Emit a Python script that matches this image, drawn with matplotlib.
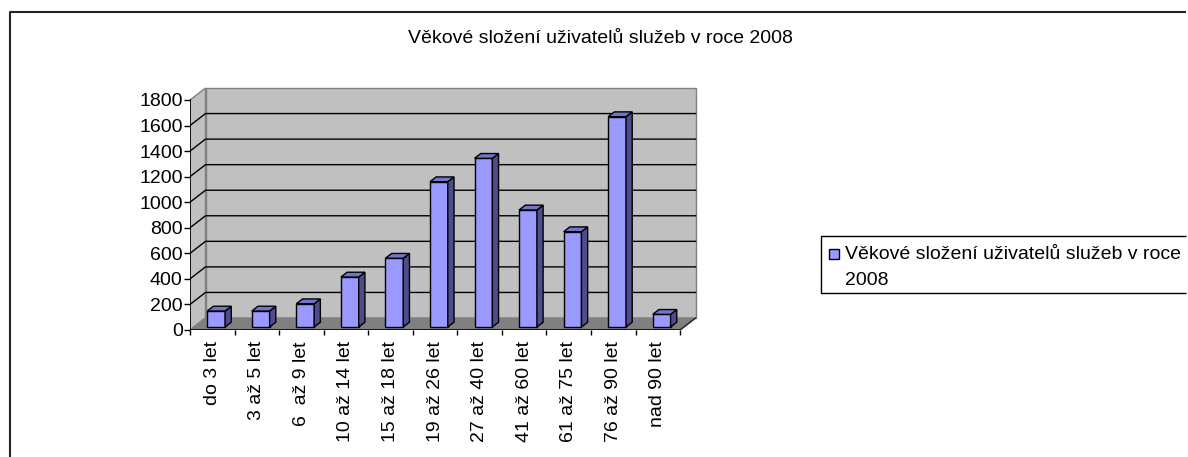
import matplotlib
matplotlib.use('Agg')
import matplotlib.pyplot as plt
from matplotlib.patches import Polygon, Rectangle
from matplotlib.lines import Line2D
import numpy as np

plt.rcParams['font.family'] = ['Liberation Sans', 'DejaVu Sans']

# Data
nazev = 'Věkové složení uživatelů služeb v roce 2008'
kategorie = ['do 3 let', '3 až 5 let', '6  až 9 let', '10 až 14 let', '15 až 18 let',
             '19 až 26 let', '27 až 40 let', '41 až 60 let', '61 až 75 let',
             '76 až 90 let', 'nad 90 let']
pocty = [125, 125, 182, 391, 538, 1137, 1320, 916, 746, 1646, 99]
y_ticks = [0, 200, 400, 600, 800, 1000, 1200, 1400, 1600, 1800]

# Rozmery obrazku (px) a "3D" posun
W, H = 1188, 457
PX_X = 44.55          # px na jednu kategorii
PX_Y = 230 / 1800     # px na jednotku hodnoty
DX = 15.5 / PX_X      # hloubka ve smeru x (v jednotkach kategorie)
DY = 12 / PX_Y        # hloubka ve smeru y (v jednotkach hodnoty)

FS = 14
C_PREDNI = '#9999ff'
C_HORNI = '#7474cc'
C_BOK = '#4d4d8a'

fig = plt.figure(figsize=(W / 100, H / 100), dpi=100, facecolor='white')
ax = fig.add_axes([190 / W, (H - 330) / H, 510 / W, 250 / H])
ax.set_xlim(0, 510 / PX_X)
ax.set_ylim(0, 250 / PX_Y)
for s in ax.spines.values():
    s.set_visible(False)
ax.patch.set_visible(False)

n = len(kategorie)
ymax = y_ticks[-1]

# Steny a podlaha
ax.add_patch(Polygon([(DX, DY), (n + DX, DY), (n + DX, ymax + DY), (DX, ymax + DY)],
                     closed=True, fc='#c0c0c0', ec='#808080', lw=1, zorder=1))
ax.add_patch(Polygon([(0, 0), (DX, DY), (DX, ymax + DY), (0, ymax)],
                     closed=True, fc='#c0c0c0', ec='#808080', lw=1, zorder=1))
ax.add_patch(Polygon([(0, 0), (n, 0), (n + DX, DY), (DX, DY)],
                     closed=True, fc='#808080', ec='#808080', lw=1, zorder=1))
ax.plot([n, n + DX], [0, DY], color='#222222', lw=1, zorder=2)

# Mrizka
for v in y_ticks[1:-1]:
    ax.plot([0, DX, n + DX], [v, v + DY, v + DY], color='black', lw=1, zorder=2)

# Osy
ax.plot([0, 0], [0, ymax], color='black', lw=1.2, zorder=3)
ax.plot([0, n], [0, 0], color='black', lw=1.2, zorder=3)

# Sloupce
f = 0.25
sirka = 0.4
hl = 0.4
x_stred = np.arange(n) + 0.5 + f * DX
zaklad = f * DY
ax.bar(x_stred, pocty, width=sirka, bottom=zaklad, color=C_PREDNI,
       edgecolor='black', lw=1, zorder=5)
d = hl * DX
dy = hl * DY
for xc, v in zip(x_stred, pocty):
    x0, x1 = xc - sirka / 2, xc + sirka / 2
    top = zaklad + v
    ax.add_patch(Polygon([(x1, zaklad), (x1, top), (x1 + d, top + dy), (x1 + d, zaklad + dy)],
                         closed=True, fc=C_BOK, ec='black', lw=1, zorder=5))
    ax.add_patch(Polygon([(x0, top), (x1, top), (x1 + d, top + dy), (x0 + d, top + dy)],
                         closed=True, fc=C_HORNI, ec='black', lw=1, zorder=5))

# Popisky os
ax.set_yticks(y_ticks)
ax.set_yticklabels([str(v) for v in y_ticks])
ax.tick_params(axis='y', direction='out', length=4.3, width=1, pad=1, labelsize=FS)
ax.set_xticks(range(n + 1))
ax.tick_params(axis='x', which='major', direction='out', length=3.6, width=1, labelbottom=False)
ax.set_xticks(np.arange(n) + 0.5, minor=True)
ax.set_xticklabels(kategorie, minor=True, rotation=90, va='top', ha='center')
ax.tick_params(axis='x', which='minor', length=0, pad=8, labelsize=FS)

# Titulek
fig.text(600 / W, 1 - 43 / H, nazev, ha='center', va='baseline', fontsize=FS)

# Legenda (pravy okraj je mimo obrazek)
x_konec = 1186 / W
lx0, ly0, ly1 = 821 / W, 1 - 293 / H, 1 - 236 / H
fig.add_artist(Line2D([x_konec, lx0, lx0, x_konec], [ly1, ly1, ly0, ly0],
                      transform=fig.transFigure, color='black', lw=1,
                      solid_capstyle='butt'))
fig.patches.append(Rectangle((829 / W, 1 - 259 / H), 10 / W, 10 / H, transform=fig.transFigure,
                             fc=C_PREDNI, ec='black', lw=1))
fig.text(845 / W, 1 - 259 / H, 'Věkové složení uživatelů služeb v roce', ha='left',
         va='baseline', fontsize=FS)
fig.text(845 / W, 1 - 285 / H, '2008', ha='left', va='baseline', fontsize=FS)

# Ramecek grafu (jen horni a levy okraj jsou videt)
fig.add_artist(Line2D([10 / W, 10 / W, x_konec], [0.0, 1 - 12 / H, 1 - 12 / H],
                      transform=fig.transFigure, color='#222222', lw=1.5,
                      solid_capstyle='butt'))

fig.savefig('out.png', dpi=100)
